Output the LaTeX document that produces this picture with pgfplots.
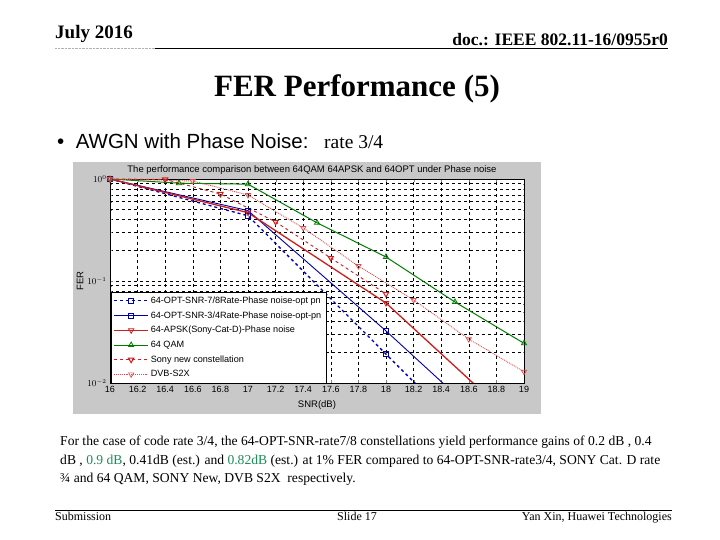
\documentclass[border=0pt]{standalone}
\usepackage{pgfplots}
\pgfplotsset{compat=1.18}
\usepackage{fontspec}
\setmainfont{Liberation Serif}
\setsansfont{Liberation Sans}
\definecolor{mblue}{RGB}{0,0,170}
\definecolor{mgreen}{RGB}{0,125,0}
\definecolor{mred}{RGB}{205,30,30}
\definecolor{mpink}{RGB}{225,75,75}
\definecolor{figgray}{RGB}{200,200,200}
\definecolor{txtgreen}{RGB}{30,140,90}
\begin{document}
\begin{tikzpicture}[x=1pt,y=1pt]
\useasboundingbox (0,0) rectangle (720,540);
\fill[white] (0,0) rectangle (720,540);
% header
\node[anchor=base west,inner sep=0,font=\fontsize{19}{21}\selectfont\bfseries] at (55,501) {July 2016};
\node[anchor=base east,inner sep=0,font=\fontsize{17.5}{19}\selectfont\bfseries] at (668,494) {doc.: IEEE 802.11-16/0955r0};
\draw[gray!60,densely dotted] (55,492) -- (155,492);
\draw[line width=0.8pt] (155,492) -- (668,492);
\node[anchor=base,inner sep=0,font=\fontsize{31}{34}\selectfont\bfseries] at (357,443) {FER Performance (5)};
\node[anchor=base west,inner sep=0,font=\sffamily\fontsize{20.5}{23}\selectfont] at (57,391) {\textbullet\ \ AWGN with Phase Noise:};
\node[anchor=base west,inner sep=0,font=\fontsize{19.5}{21}\selectfont] at (324,391) {rate 3/4};
% figure
\fill[figgray] (73,126) rectangle (541,378);
\node[anchor=center,inner sep=0,font=\sffamily\fontsize{9.5}{11}\selectfont] at (312,370) {The performance comparison between 64QAM 64APSK and 64OPT under Phase noise};
\begin{axis}[
  at={(110pt,157pt)}, anchor=south west, scale only axis,
  width=414pt, height=204pt,
  xmin=16, xmax=19, ymin=0.01, ymax=1, ymode=log,
  axis background/.style={fill=white},
  xtick={16,16.2,16.4,16.6,16.8,17,17.2,17.4,17.6,17.8,18,18.2,18.4,18.6,18.8,19},
  xticklabels={16,16.2,16.4,16.6,16.8,17,17.2,17.4,17.6,17.8,18,18.2,18.4,18.6,18.8,19},
  ytick={0.01,0.1,1}, yticklabels={$10^{-2}$,$10^{-1}$,$10^{0}$},
  grid=both,
  major grid style={black,dashed,line width=0.5pt},
  minor grid style={black,dashed,line width=0.5pt},
  tick align=inside, major tick length=3pt, minor tick length=1.5pt,
  tick label style={font=\sffamily\fontsize{9}{10}\selectfont},
  xlabel={SNR(dB)}, ylabel={FER},
  label style={font=\sffamily\fontsize{9.5}{11}\selectfont},
  xlabel style={at={(axis description cs:0.5,-0.108)},anchor=center},
  ylabel style={at={(axis description cs:-0.072,0.5)},anchor=center},
  legend style={at={(0.002,0)}, anchor=south west, draw=black, fill=white,
    font=\sffamily\fontsize{9.1}{11}\selectfont, row sep=2.7pt, inner sep=2.5pt},
  legend cell align=left,
  legend image code/.code={\draw[mark repeat=2,mark phase=2,#1] plot coordinates {(0pt,0pt)(17pt,0pt)(34pt,0pt)};},
]
\addplot[mblue, dashed, line width=1.3pt, mark=square, mark size=2.6pt, mark options={solid,line width=0.8pt}]
  coordinates {(16,1)(17,0.436)(18,0.0192)(19,0.00085)};
\addlegendentry{64-OPT-SNR-7/8Rate-Phase noise-opt pn}
\addplot[mblue, line width=0.9pt, mark=square, mark size=2.6pt, mark options={solid,line width=0.8pt}]
  coordinates {(16,1)(17,0.49)(18,0.0324)(19,0.00186)};
\addlegendentry{64-OPT-SNR-3/4Rate-Phase noise-opt-pn}
\addplot[mred, line width=1.3pt, mark=triangle, mark size=3pt, mark options={solid,rotate=180,line width=0.8pt}]
  coordinates {(16,1)(17,0.468)(18,0.0608)(19,0.00347)};
\addlegendentry{64-APSK(Sony-Cat-D)-Phase noise}
\addplot[mgreen, line width=1pt, mark=triangle, mark size=3pt, mark options={solid,line width=0.8pt}]
  coordinates {(16,1)(16.5,0.91)(17,0.89)(17.5,0.372)(18,0.172)(18.5,0.0622)(19,0.0245)};
\addlegendentry{64 QAM}
\addplot[mred, dashed, line width=0.9pt, mark=triangle, mark size=3pt, mark options={solid,rotate=180,line width=1pt}]
  coordinates {(16,1)(16.4,0.99)(16.8,0.713)(17.2,0.380)(17.6,0.168)(18,0.0746)};
\addlegendentry{Sony new constellation}
\addplot[mpink, densely dotted, line width=0.9pt, mark=triangle, mark size=3pt, mark options={solid,rotate=180,line width=0.7pt}]
  coordinates {(16,1)(16.6,0.955)(17,0.697)(17.4,0.331)(17.8,0.140)(18.2,0.0652)(18.6,0.0269)(19,0.0129)};
\addlegendentry{DVB-S2X}
\end{axis}
% paragraph
\node[anchor=base west,inner sep=0,font=\fontsize{13.6}{16}\selectfont] at (60,94) {For the case of code rate 3/4, the 64-OPT-SNR-rate7/8 constellations yield performance gains of 0.2 dB , 0.4};
\node[anchor=base west,inner sep=0,font=\fontsize{13.6}{16}\selectfont] at (60,75) {dB , \textcolor{txtgreen}{0.9 dB}, 0.41dB (est.) and \textcolor{txtgreen}{0.82dB} (est.) at 1\% FER compared to 64-OPT-SNR-rate3/4, SONY Cat. D rate};
\node[anchor=base west,inner sep=0,font=\fontsize{13.6}{16}\selectfont] at (60,57) {¾ and 64 QAM, SONY New, DVB S2X \ respectively.};
% footer
\draw[line width=0.8pt] (55,30) -- (672,30);
\node[anchor=base west,inner sep=0,font=\fontsize{12}{14}\selectfont] at (55,19) {Submission};
\node[anchor=base,inner sep=0,font=\fontsize{12}{14}\selectfont] at (357,19) {Slide 17};
\node[anchor=base east,inner sep=0,font=\fontsize{12}{14}\selectfont] at (672,19) {Yan Xin, Huawei Technologies};
\end{tikzpicture}
\end{document}
